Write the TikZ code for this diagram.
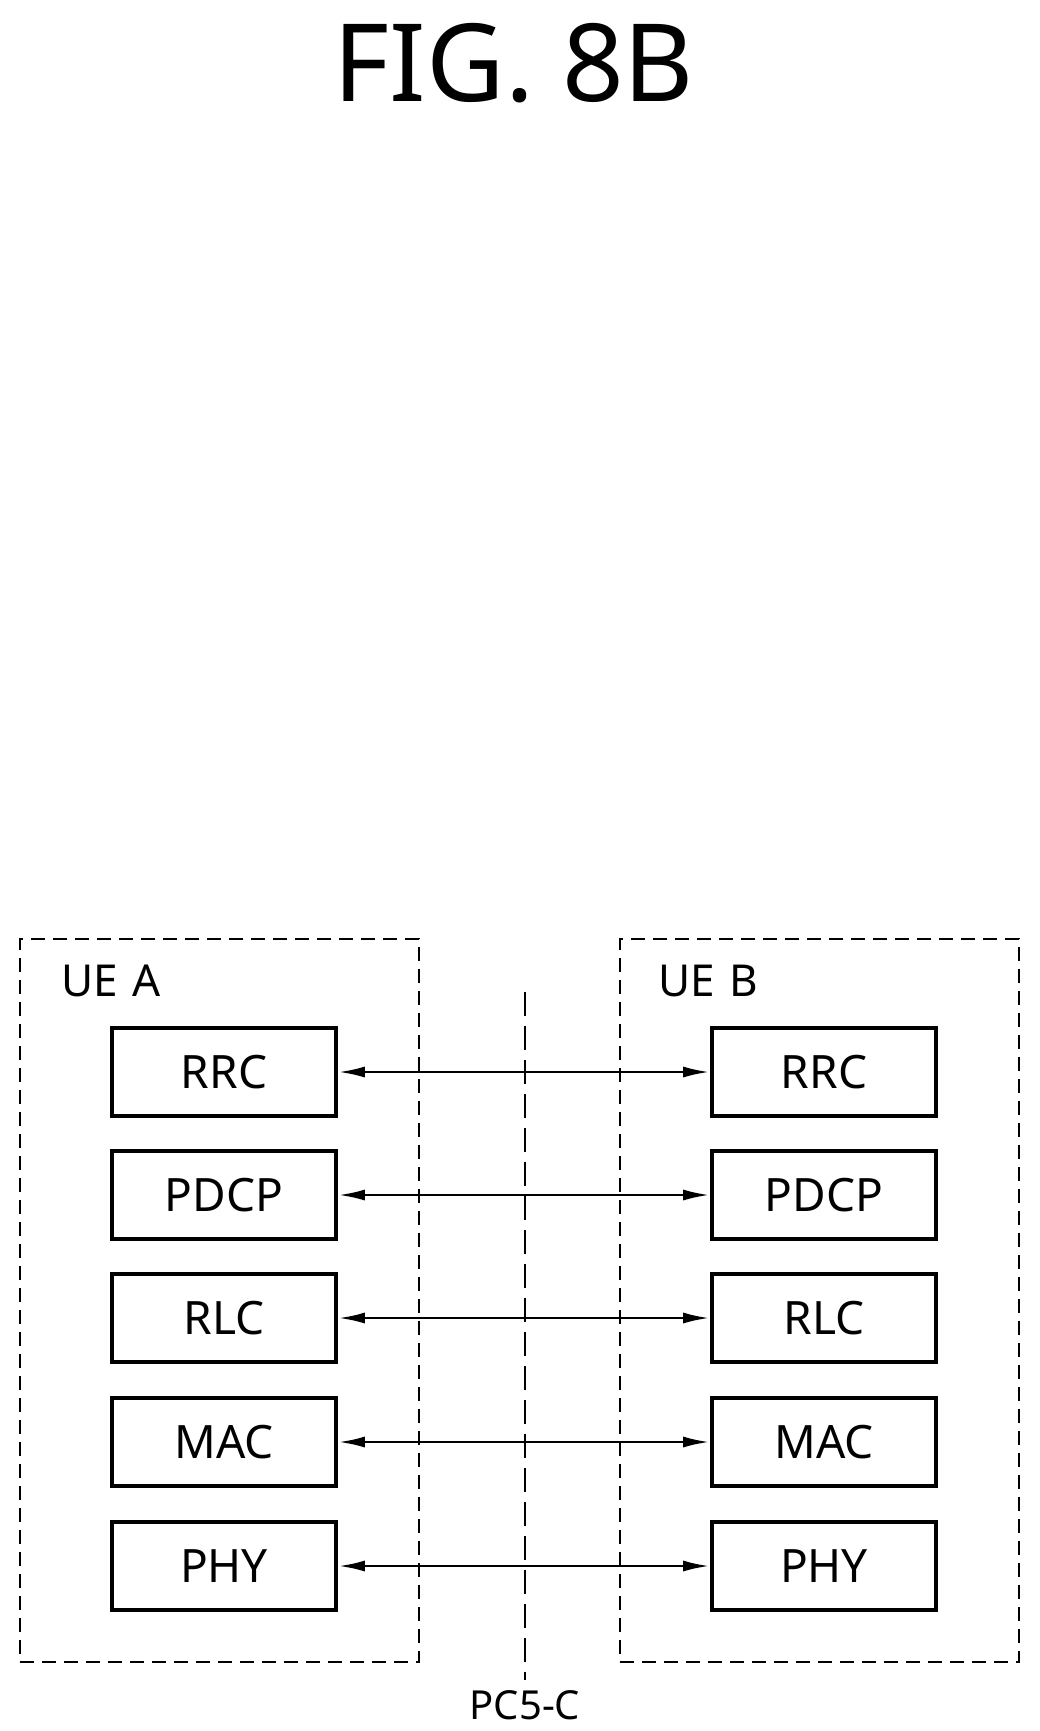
\documentclass[tikz,border=0pt]{standalone}
\usepackage{fontspec}
\setmainfont{Noto Sans}
\usetikzlibrary{arrows.meta}
\begin{document}
\begin{tikzpicture}[x=1pt,y=-1pt,
 lay/.style={draw,line width=3.6pt,minimum width=224pt,minimum height=88pt,inner sep=0pt,font=\fontsize{46}{50}\selectfont},
 ue/.style={draw,dashed,line width=2.2pt,dash pattern=on 14pt off 8pt},
 lbl/.style={font=\fontsize{44}{48}\selectfont,anchor=west},
 arr/.style={line width=2.4pt,{Latex[length=26pt,width=11pt]}-{Latex[length=26pt,width=11pt]},shorten <=1pt,shorten >=1pt}]
\useasboundingbox (0,0) rectangle (1039,1731);
\node[font=\fontsize{108}{120}\selectfont] (title) at (514,63) {FIG. 8B};
\node[ue,minimum width=399pt,minimum height=723pt] (A) at (219.5,1300.5) {};
\node[ue,minimum width=399pt,minimum height=723pt] (B) at (819.5,1300.5) {};
\node[lbl] (ua) at (58,981) {UE\,\,A};
\node[lbl] (ub) at (655,981) {UE\,\,B};
\coordinate (p1) at (525,992);
\coordinate (p2) at (525,1680);
\draw[line width=2.2pt,dash pattern=on 24pt off 10pt] (p1) -- (p2);
\node[font=\fontsize{40}{44}\selectfont,anchor=south,inner sep=0pt] (pc) at (525,1720) {PC5-C};
\foreach \n/\t/\y in {a/RRC/1072,b/PDCP/1195,c/RLC/1318,d/MAC/1442,e/PHY/1566}{
 \node[lay] (L\n) at (224,\y) {\t};
 \node[lay] (R\n) at (824,\y) {\t};
 \draw[arr] (L\n.east) -- (R\n.west);
}
\end{tikzpicture}
\end{document}
